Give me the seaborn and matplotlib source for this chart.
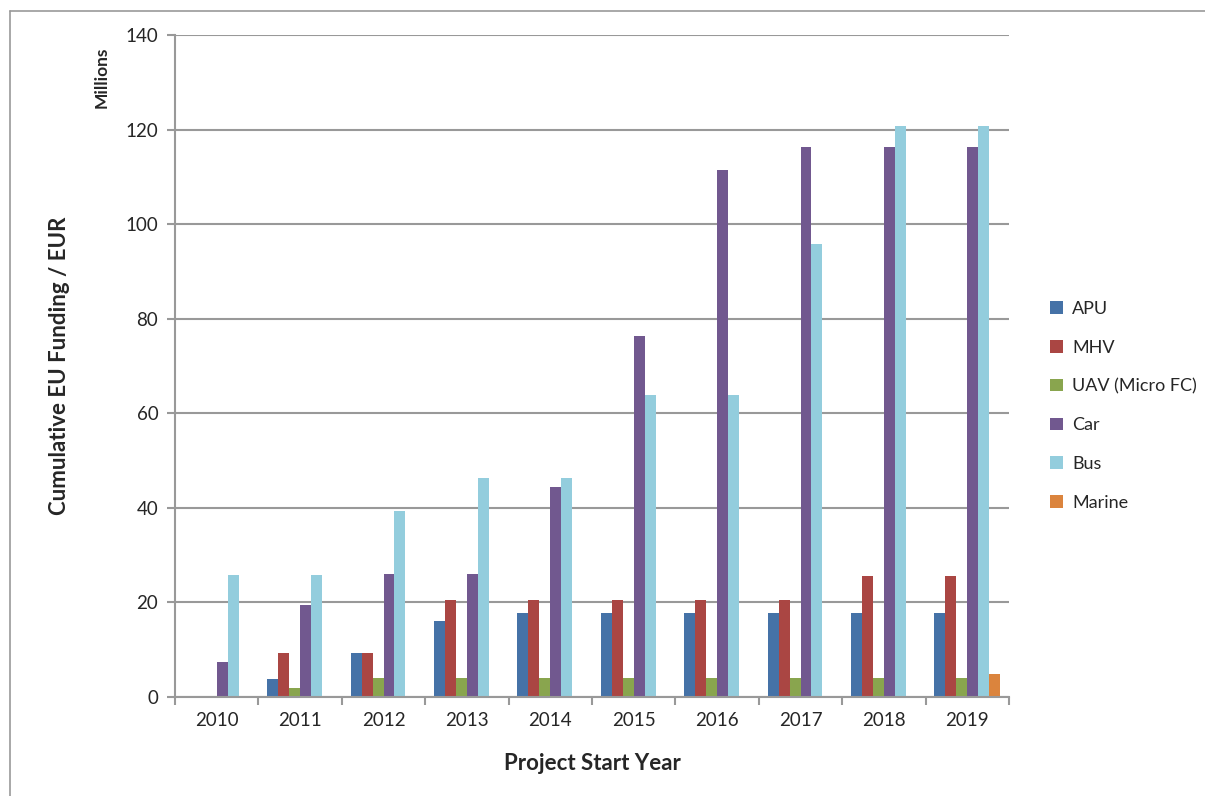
import pandas as pd
import matplotlib.pyplot as plt
import seaborn as sns
from matplotlib.lines import Line2D

# values (millions EUR, cumulative)
years = ["2010", "2011", "2012", "2013", "2014", "2015", "2016", "2017", "2018", "2019"]
apu = [0, 3.8, 9.2, 16.1, 17.7, 17.7, 17.7, 17.7, 17.7, 17.7]
mhv = [0, 9.4, 9.4, 20.5, 20.5, 20.5, 20.5, 20.5, 25.6, 25.6]
uav = [0, 1.9, 4.1, 4.1, 4.1, 4.1, 4.1, 4.1, 4.1, 4.1]
car = [7.5, 19.5, 26.1, 26.1, 44.4, 76.3, 111.4, 116.3, 116.3, 116.3]
bus = [25.7, 25.7, 39.4, 46.3, 46.3, 63.8, 63.8, 95.8, 120.8, 120.8]
marine = [0, 0, 0, 0, 0, 0, 0, 0, 0, 4.9]

series = {"APU": apu, "MHV": mhv, "UAV (Micro FC)": uav, "Car": car, "Bus": bus, "Marine": marine}
colors = ["#4572A7", "#AA4643", "#89A54E", "#71588F", "#93CDDD", "#DB843D"]

df = pd.DataFrame(
    [(y, name, v) for name, vals in series.items() for y, v in zip(years, vals)],
    columns=["Year", "Type", "Funding"],
)

sns.set_style("white")
plt.rcParams["font.family"] = ["Lato", "DejaVu Sans"]

fig = plt.figure(figsize=(12.05, 7.96), dpi=100)
ax = fig.add_axes([175 / 1205, 1 - 697 / 796, (1009 - 175) / 1205, (697 - 35) / 796])

sns.barplot(data=df, x="Year", y="Funding", hue="Type", palette=colors,
            width=0.79, linewidth=0, saturation=1, ax=ax)

ax.set_ylim(0, 140)
ax.set_xlim(-0.5, len(years) - 0.5)
ax.set_yticks(range(0, 141, 20))
ax.yaxis.grid(True, color="#999999", linewidth=1.5)
ax.set_axisbelow(True)
for s in ["top", "right"]:
    ax.spines[s].set_visible(False)
for s in ["left", "bottom"]:
    ax.spines[s].set_color("#999999")
    ax.spines[s].set_linewidth(1.5)

ax.tick_params(axis="y", which="major", left=True, length=6, width=1.5, color="#999999",
               labelsize=13.5, pad=6)
ax.tick_params(axis="x", which="major", length=0, labelsize=13.5, pad=11)
ax.set_xticks([i - 0.5 for i in range(len(years) + 1)], minor=True)
ax.tick_params(axis="x", which="minor", bottom=True, length=6, width=1.5, color="#999999")

ax.set_xlabel("Project Start Year", fontsize=16, fontweight="bold", labelpad=17)
ax.set_ylabel("Cumulative EU Funding / EUR", fontsize=16, fontweight="bold", labelpad=40)
fig.text(102 / 1205, 1 - 77 / 796, "Millions", rotation=90, ha="center", va="center",
         fontsize=12.5, fontweight="bold")

ax.legend(loc="center left", bbox_to_anchor=(1.03, 0.44), frameon=False, fontsize=13,
          handlelength=0.7, handleheight=0.7, handletextpad=0.5, labelspacing=1.26)

# outer chart border (top and left visible)
fig.add_artist(Line2D([10 / 1205, 10 / 1205], [0, 1 - 11 / 796], color="#999999", lw=1.2))
fig.add_artist(Line2D([10 / 1205, 1], [1 - 11 / 796, 1 - 11 / 796], color="#999999", lw=1.2))

fig.savefig("out.png", dpi=100)
